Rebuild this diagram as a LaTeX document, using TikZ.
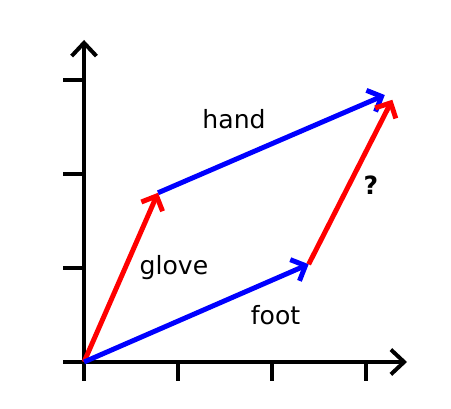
\documentclass[tikz,border=0pt]{standalone}
\usepackage{fontspec}
\setmainfont{DejaVu Sans}
\usetikzlibrary{arrows.meta}
\begin{document}
\begin{tikzpicture}[
  axis/.style={line width=1.2pt, -{Straight Barb[length=4pt,width=7.5pt,line width=1.2pt]}},
  tickline/.style={line width=1.2pt},
  vec/.style={line width=1.5pt, -{Straight Barb[length=3.5pt,width=7pt,line width=1.5pt]}},
  lbl/.style={inner sep=0pt, anchor=base, font=\fontsize{7.6pt}{9pt}\selectfont}
]
\useasboundingbox (-0.894,-0.5) rectangle (3.904,3.851);
% axes
\coordinate (xs) at (-0.22,0);
\coordinate (xe) at (3.436,0);
\coordinate (ys) at (0,-0.2);
\coordinate (ye) at (0,3.426);
\draw[axis] (xs) -- (xe);
\draw[axis] (ys) -- (ye);
\foreach \i in {1,2,3} {
  \draw[tickline] (\i,0) -- (\i,-0.2);
  \draw[tickline] (-0.22,\i) -- (0,\i);
}
% vectors
\coordinate (O) at (0,0);
\coordinate (G) at (0.787,1.80);
\coordinate (H) at (3.2,2.84);
\coordinate (F) at (2.39,1.04);
\coordinate (Q) at (3.28,2.79);
\draw[vec, red] (O) -- (G);
\draw[vec, blue] (G) -- (H);
\draw[vec, blue] (O) -- (F);
\draw[vec, red] (F) -- (Q);
% labels
\node[lbl] (lh) at (1.596,2.479) {hand};
\node[lbl] (lg) at (0.957,0.926) {glove};
\node[lbl] (lf) at (2.037,0.394) {foot};
\node[lbl, font=\fontsize{7.6pt}{9pt}\selectfont\bfseries] (lq) at (3.053,1.777) {?};
\end{tikzpicture}
\end{document}
